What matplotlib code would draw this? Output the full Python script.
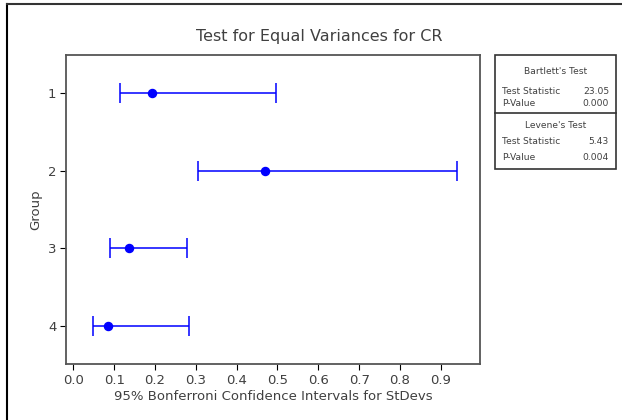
import matplotlib
matplotlib.use("Agg")
import matplotlib.pyplot as plt
from matplotlib.lines import Line2D
from matplotlib.patches import Rectangle

# Bonferroni intervals for the standard deviation of CR, per group
groups = [1, 2, 3, 4]
stdev = [0.192, 0.469, 0.136, 0.084]
ci_lower = [0.114, 0.305, 0.090, 0.048]
ci_upper = [0.496, 0.940, 0.278, 0.284]

xticks = [0.0, 0.1, 0.2, 0.3, 0.4, 0.5, 0.6, 0.7, 0.8, 0.9]

# test summary
bartlett_stat = 23.05
bartlett_p = 0.000
levene_stat = 5.43
levene_p = 0.004

W, H = 622, 420
TXT = "#404040"

fig = plt.figure(figsize=(W / 100, H / 100), dpi=100)


def fx(x):
    return x / W


def fy(y):
    return 1 - y / H


# outer frame (left and top edges only)
fig.add_artist(Line2D([fx(7), fx(7)], [fy(4), 0], color="black", lw=1.5))
fig.add_artist(Line2D([fx(7), 1], [fy(4), fy(4)], color="#333333", lw=1.5))

ax = fig.add_axes([fx(66), fy(364), fx(480) - fx(66), fy(55) - fy(364)])

err = [[s - lo for s, lo in zip(stdev, ci_lower)],
       [hi - s for s, hi in zip(stdev, ci_upper)]]
ax.errorbar(stdev, groups, xerr=err, fmt="o", color="blue", ecolor="blue",
            elinewidth=1.1, capsize=7, capthick=1.1, markersize=5.8)

ax.set_xlim(-0.018, 0.996)
ax.set_ylim(4.49, 0.51)
ax.set_xticks(xticks)
ax.set_xticklabels([f"{t:.1f}" for t in xticks])
ax.set_yticks(groups)
ax.set_yticklabels([str(g) for g in groups])
ax.tick_params(direction="out", length=4, width=0.8, colors="black",
               labelcolor=TXT, labelsize=9.5, pad=3)
for sp in ax.spines.values():
    sp.set_color("#555555")
    sp.set_linewidth(1.3)

ax.set_xlabel("95% Bonferroni Confidence Intervals for StDevs", color=TXT,
              fontsize=9.5, labelpad=2)
ax.set_ylabel("Group", color=TXT, fontsize=9.5, labelpad=4)

fig.text(fx(319), fy(36), "Test for Equal Variances for CR", ha="center",
         va="center", color=TXT, fontsize=11.5)

# test results box
x0, x1, y0, y1, ymid = 495, 616, 55, 169, 113
fig.add_artist(Rectangle((fx(x0), fy(y1)), fx(x1) - fx(x0), fy(y0) - fy(y1),
                         fill=False, edgecolor="#333333", lw=1.2))
fig.add_artist(Line2D([fx(x0), fx(x1)], [fy(ymid), fy(ymid)],
                      color="#333333", lw=1.2))

small = dict(color=TXT, fontsize=6.6, va="center")
fig.text(fx(556), fy(72), "Bartlett's Test", ha="center", **small)
fig.text(fx(502), fy(91), "Test Statistic", ha="left", **small)
fig.text(fx(609), fy(91), f"{bartlett_stat:.2f}", ha="right", **small)
fig.text(fx(502), fy(104), "P-Value", ha="left", **small)
fig.text(fx(609), fy(104), f"{bartlett_p:.3f}", ha="right", **small)
fig.text(fx(556), fy(126), "Levene's Test", ha="center", **small)
fig.text(fx(502), fy(142), "Test Statistic", ha="left", **small)
fig.text(fx(609), fy(142), f"{levene_stat:.2f}", ha="right", **small)
fig.text(fx(502), fy(157), "P-Value", ha="left", **small)
fig.text(fx(609), fy(157), f"{levene_p:.3f}", ha="right", **small)

fig.savefig("out.png", dpi=100)
